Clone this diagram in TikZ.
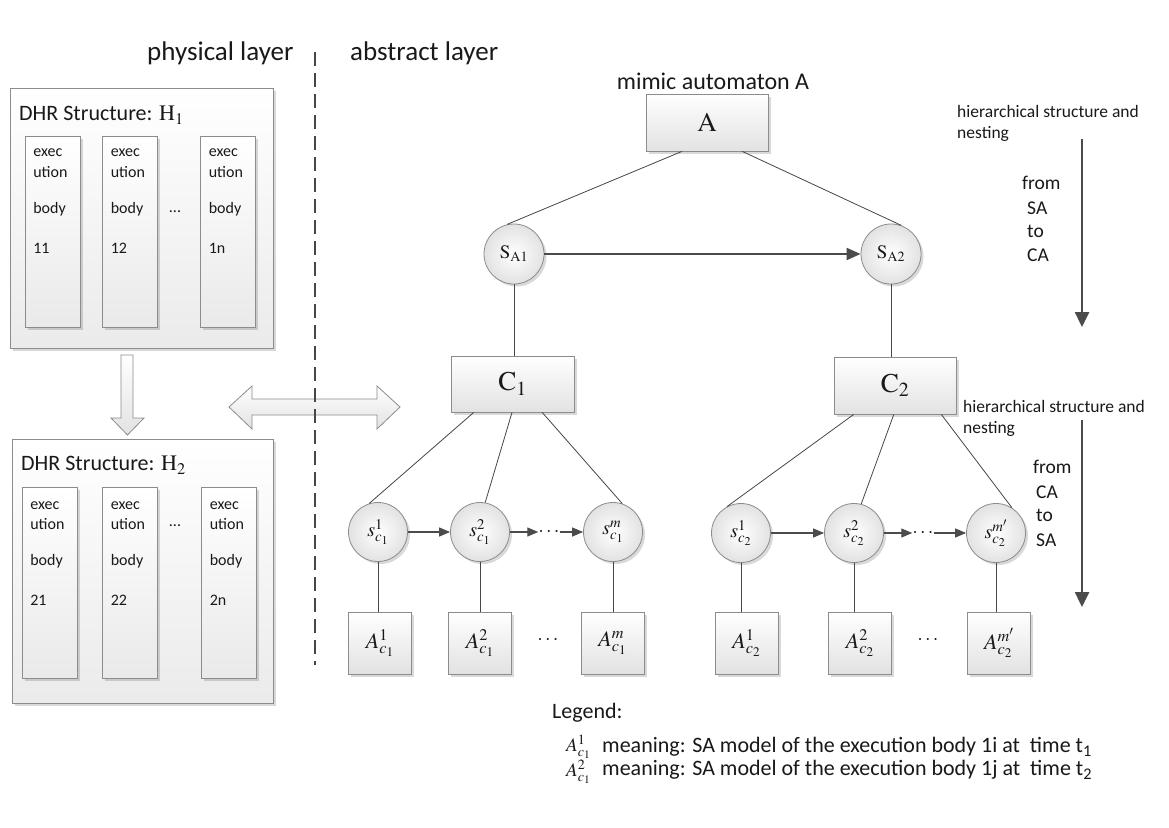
\documentclass[tikz,border=0pt]{standalone}
\usepackage{mathptmx}
\usepackage[no-math]{fontspec}
\setmainfont{Carlito}
\usetikzlibrary{shadows,arrows.meta,calc}
\definecolor{lc}{RGB}{70,70,70}
\definecolor{bc}{RGB}{140,140,140}
\definecolor{boxg}{RGB}{226,226,226}
\definecolor{txt}{RGB}{25,25,25}
\definecolor{arc}{RGB}{75,75,75}
\tikzset{
  shd/.style={drop shadow={shadow xshift=2.5pt,shadow yshift=-2.5pt,fill=black,opacity=0.15}},
  ln/.style={draw=lc,line width=0.8pt},
  dhr/.style={draw=bc,line width=0.8pt,top color=white,bottom color=boxg!70,shd,inner sep=0pt},
  ebox/.style={draw=bc,line width=0.8pt,top color=white,bottom color=boxg!75,shd,inner sep=0pt,minimum width=55,minimum height=191},
  box/.style={draw=bc,line width=0.8pt,top color=white,bottom color=boxg,shd,inner sep=0pt,text=txt},
  abox/.style={box,minimum width=63,minimum height=62,font=\fontsize{22}{22}\selectfont},
  sc/.style={circle,draw=bc,line width=0.8pt,inner color=white,outer color=boxg,shd,inner sep=0pt,minimum size=59,text=txt,font=\fontsize{20}{20}\selectfont},
  etxt/.style={anchor=west,inner sep=0pt,text=txt,font=\fontsize{16}{18}\selectfont},
  lbl/.style={anchor=west,inner sep=0pt,text=txt},
  hl/.style={lbl,font=\fontsize{17.5}{21}\selectfont},
  fl/.style={lbl,font=\fontsize{19.5}{23}\selectfont},
  blk/.style={draw=bc,line width=0.8pt,top color=white,bottom color=boxg},
  sarr/.style={draw=arc,line width=1.2pt,-{Triangle[length=11pt,width=9pt]}},
  tarr/.style={draw=arc,line width=2pt,-{Triangle[length=14pt,width=12pt]}},
  barr/.style={draw=arc,line width=2.5pt,-{Triangle[length=15pt,width=14pt]}},
  dashln/.style={draw=lc,line width=1.3pt,dash pattern=on 14pt off 7pt},
  dotn/.style={inner sep=0pt,text=txt,font=\fontsize{20}{20}\selectfont}
}
\begin{document}
\begin{tikzpicture}[x=1pt,y=-1pt]
\useasboundingbox (0,0) rectangle (1169,827);
\fill[white] (0,0) rectangle (1169,827);

% layer titles
\node[lbl,font=\fontsize{27}{30}\selectfont] (phys) at (147,53) {physical layer};
\node[lbl,font=\fontsize{27}{30}\selectfont] (abst) at (350,53) {abstract layer};

% DHR structure 1
\node[dhr,minimum width=263,minimum height=260] (H1) at (141.5,218) {};
\node[lbl,font=\fontsize{22}{24}\selectfont] (H1t) at (19,115) {DHR Structure: $\mathrm{H}_1$};
\foreach \n/\cx/\lab in {a/52.5/11,b/130/12,c/228/1n}{
  \node[ebox] (H1\n) at (\cx,231.5) {};
  \node[etxt] (H1\n1) at ($(H1\n.north west)+(8.5,17)$) {exec};
  \node[etxt] (H1\n2) at ($(H1\n.north west)+(8.5,36)$) {ution};
  \node[etxt] (H1\n3) at ($(H1\n.north west)+(8.5,74)$) {body};
  \node[etxt] (H1\n4) at ($(H1\n.north west)+(8.5,113)$) {\lab};
}
\node[dotn,font=\fontsize{16}{16}\selectfont] (H1d) at (175,212) {...};

% DHR structure 2
\node[dhr,minimum width=261,minimum height=264] (H2) at (142.5,571) {};
\node[lbl,font=\fontsize{22}{24}\selectfont] (H2t) at (21,465) {DHR Structure: $\mathrm{H}_2$};
\foreach \n/\cx/\lab in {a/49.5/21,b/130/22,c/229/2n}{
  \node[ebox] (H2\n) at (\cx,582.5) {};
  \node[etxt] (H2\n1) at ($(H2\n.north west)+(8.5,19)$) {exec};
  \node[etxt] (H2\n2) at ($(H2\n.north west)+(8.5,37)$) {ution};
  \node[etxt] (H2\n3) at ($(H2\n.north west)+(8.5,75)$) {body};
  \node[etxt] (H2\n4) at ($(H2\n.north west)+(8.5,114)$) {\lab};
}
\node[dotn,font=\fontsize{16}{16}\selectfont] (H2d) at (175,526) {...};

% block arrows
\draw[blk] (121,355) -- (133,355) -- (133,418) -- (144,418) -- (127.5,435) -- (111,418) -- (121,418) -- cycle;
\draw[blk] (229,407) -- (252,386) -- (252,399) -- (377,399) -- (377,386) -- (400,407) -- (377,429) -- (377,415) -- (252,415) -- (252,429) -- cycle;

% dashed separator
\coordinate (dtop) at (315,52);
\coordinate (dbot) at (315,665);
\draw[dashln] (dtop) -- (dbot);

% mimic automaton
\node[lbl,anchor=center,font=\fontsize{24}{26}\selectfont] (mim) at (713,81) {mimic automaton A};
\node[box,minimum width=122,minimum height=57,font=\fontsize{27}{27}\selectfont] (A) at (707,122.5) {$\mathrm{A}$};
\node[sc,minimum size=60,font=\fontsize{19}{19}\selectfont] (SA1) at (514,254) {$\mathrm{S}_{\mathrm{A1}}$};
\node[sc,minimum size=60,font=\fontsize{19}{19}\selectfont] (SA2) at (891,254) {$\mathrm{S}_{\mathrm{A2}}$};
\draw[ln] ($(A.south west)!0.296!(A.south east)$) -- (SA1.103);
\draw[ln] ($(A.south west)!0.787!(A.south east)$) -- (SA2.70);
\draw[tarr] (SA1) -- (SA2);

% C boxes
\node[box,minimum width=123,minimum height=56,font=\fontsize{27}{27}\selectfont] (C1) at (512.5,384) {$\mathrm{C}_1$};
\node[box,minimum width=122,minimum height=57,font=\fontsize{27}{27}\selectfont] (C2) at (895,385.5) {$\mathrm{C}_2$};
\draw[ln] (SA1.south) -- (SA1.south |- C1.north);
\draw[ln] (SA2.south) -- (SA2.south |- C2.north);

% state circles
\node[sc] (s11) at (378,532) {$s^{1}_{c_1}$};
\node[sc] (s12) at (480,532) {$s^{2}_{c_1}$};
\node[sc] (s1m) at (613,532) {$s^{m}_{c_1}$};
\node[sc] (s21) at (741,533) {$s^{1}_{c_2}$};
\node[sc] (s22) at (854,533) {$s^{2}_{c_2}$};
\node[sc] (s2m) at (996,533) {$s^{m'}_{c_2}$};
\node[dotn] (d1) at (549,532) {$\cdots$};
\node[dotn] (d2) at (923,533) {$\cdots$};
\draw[sarr] (s11) -- (s12);
\draw[sarr] (s12) -- (d1.west);
\draw[sarr] (d1.east) -- (s1m);
\draw[sarr] (s21) -- (s22);
\draw[sarr] (s22) -- (d2.west);
\draw[sarr] (d2.east) -- (s2m);

\draw[ln] ($(C1.south west)!0.187!(C1.south east)$) -- (s11.107);
\draw[ln] ($(C1.south west)!0.496!(C1.south east)$) -- (s12.80);
\draw[ln] ($(C1.south west)!0.74!(C1.south east)$) -- (s1m.72);
\draw[ln] ($(C2.south west)!0.164!(C2.south east)$) -- (s21.118);
\draw[ln] ($(C2.south west)!0.49!(C2.south east)$) -- (s22.76);
\draw[ln] ($(C2.south west)!0.877!(C2.south east)$) -- (s2m.58);

% SA model boxes
\node[abox] (A11) at (380,643) {$A^{1}_{c_1}$};
\node[abox] (A12) at (480,643) {$A^{2}_{c_1}$};
\node[abox] (A1m) at (612.5,643) {$A^{m}_{c_1}$};
\node[abox] (A21) at (746.5,643) {$A^{1}_{c_2}$};
\node[abox] (A22) at (860,643) {$A^{2}_{c_2}$};
\node[abox] (A2m) at (999,643) {$A^{m'}_{c_2}$};
\node[dotn] (ad1) at (548,640) {$\cdots$};
\node[dotn] (ad2) at (928,640) {$\cdots$};
\foreach \s/\a in {s11/A11,s12/A12,s1m/A1m,s21/A21,s22/A22,s2m/A2m}{
  \draw[ln] (\s.south) -- (\s.south |- \a.north);
}

% hierarchy annotations
\node[hl] (h1a) at (957,111) {hierarchical structure and};
\node[hl] (h1b) at (957,134) {nesting};
\coordinate (ar1s) at (1082,139);
\coordinate (ar1e) at (1082,327);
\draw[barr] (ar1s) -- (ar1e);
\node[fl] (f1a) at (1022,183) {from};
\node[fl] (f1b) at (1027,208) {SA};
\node[fl] (f1c) at (1027,231) {to};
\node[fl] (f1d) at (1027,255) {CA};

\node[hl] (h2a) at (963,406) {hierarchical structure and};
\node[hl] (h2b) at (963,429) {nesting};
\coordinate (ar2s) at (1082,420);
\coordinate (ar2e) at (1082,607);
\draw[barr] (ar2s) -- (ar2e);
\node[fl] (f2a) at (1033,467) {from};
\node[fl] (f2b) at (1036,492) {CA};
\node[fl] (f2c) at (1036,515) {to};
\node[fl] (f2d) at (1036,540) {SA};

% legend
\node[lbl,font=\fontsize{22}{24}\selectfont] (leg) at (552,713) {Legend:};
\node[lbl,font=\fontsize{19}{19}\selectfont] (l1m) at (566,747) {$A^{1}_{c_1}$};
\node[lbl,font=\fontsize{22}{24}\selectfont] (l1t) at (602,747) {meaning: SA model of the execution body 1i at\ \ time t\textsubscript{1}};
\node[lbl,font=\fontsize{19}{19}\selectfont] (l2m) at (566,772) {$A^{2}_{c_1}$};
\node[lbl,font=\fontsize{22}{24}\selectfont] (l2t) at (602,770) {meaning: SA model of the execution body 1j at\ \ time t\textsubscript{2}};
\end{tikzpicture}
\end{document}
